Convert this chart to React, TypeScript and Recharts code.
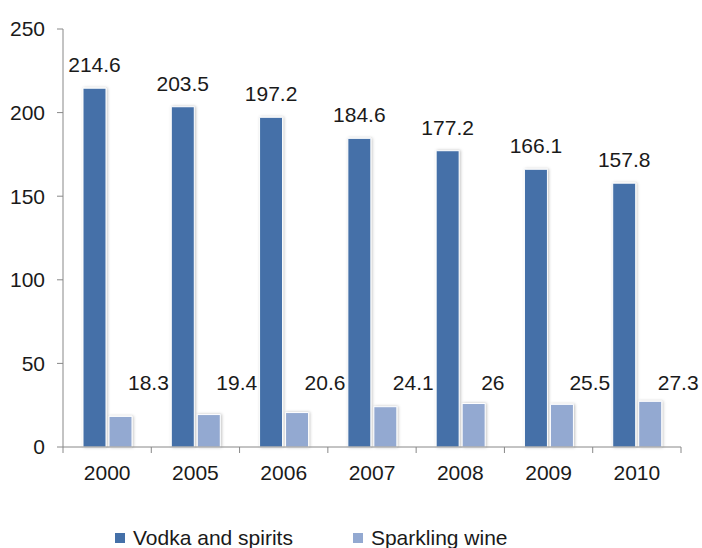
import React from "react";
import {
  BarChart,
  Bar,
  XAxis,
  YAxis,
  Legend,
  LabelList,
} from "recharts";

const years = ["2000", "2005", "2006", "2007", "2008", "2009", "2010"];
const vodka = [214.6, 203.5, 197.2, 184.6, 177.2, 166.1, 157.8];
const sparkling = [18.3, 19.4, 20.6, 24.1, 26, 25.5, 27.3];
const yTicks = [0, 50, 100, 150, 200, 250];

const data = years.map((year, i) => ({
  year,
  vodka: vodka[i],
  sparkling: sparkling[i],
}));

const FONT = "'Liberation Sans', Arial, sans-serif";
const TEXT = "#1a1a1a";
const AXIS = "#888888";
const DARK = "#4470a8";
const LIGHT = "#93a9d1";

const W = 702;
const H = 548;
const LEFT = 63;
const RIGHT = 21;
const BAND = (W - LEFT - RIGHT) / years.length;

function XTick(props: any) {
  const { x, y, payload, index } = props;
  return (
    <g>
      <line x1={x - BAND / 2} x2={x - BAND / 2} y1={y} y2={y + 6} stroke={AXIS} />
      {index === years.length - 1 && (
        <line x1={x + BAND / 2} x2={x + BAND / 2} y1={y} y2={y + 6} stroke={AXIS} />
      )}
      <text x={x} y={y + 33} textAnchor="middle" fill={TEXT} fontSize={21} fontFamily={FONT}>
        {payload.value}
      </text>
    </g>
  );
}

function TopLabel(props: any) {
  const { x, y, width, value } = props;
  return (
    <text x={x + width / 2} y={y - 16} textAnchor="middle" fill={TEXT} fontSize={21} fontFamily={FONT}>
      {value}
    </text>
  );
}

function SideLabel(props: any) {
  const { x, y, width, height, value } = props;
  return (
    <text x={x + width - 4} y={y + height - 57} textAnchor="start" fill={TEXT} fontSize={21} fontFamily={FONT}>
      {value}
    </text>
  );
}

function LegendBox() {
  const item = (color: string, label: string, gap: number) => (
    <span style={{ display: "inline-flex", alignItems: "center", marginRight: gap }}>
      <span style={{ width: 10, height: 10, background: color, marginRight: 8 }} />
      <span>{label}</span>
    </span>
  );
  return (
    <div style={{ height: 20, overflow: "visible" }}>
      <div
        style={{
          paddingLeft: 115,
          lineHeight: "20px",
          fontSize: 21,
          fontFamily: FONT,
          color: TEXT,
          whiteSpace: "nowrap",
          display: "flex",
        }}
      >
        {item(DARK, "Vodka and spirits", 60)}
        {item(LIGHT, "Sparkling wine", 0)}
      </div>
    </div>
  );
}

export default function App() {
  return (
    <div style={{ position: "absolute", left: 0, top: 0, width: W, height: H, background: "#fff", overflow: "hidden" }}>
      <BarChart
        width={W}
        height={H}
        data={data}
        margin={{ top: 29, right: RIGHT, left: 0, bottom: 0 }}
        barSize={23}
        barGap={3}
      >
        <defs>
          <filter id="barShadow" x="-30%" y="-10%" width="160%" height="120%">
            <feDropShadow dx="1" dy="0" stdDeviation="1.5" floodColor="#000" floodOpacity="0.25" />
          </filter>
        </defs>
        <XAxis
          dataKey="year"
          height={81}
          axisLine={{ stroke: AXIS }}
          tickLine={false}
          tickSize={0}
          tickMargin={0}
          tick={<XTick />}
          interval={0}
        />
        <YAxis
          width={LEFT}
          domain={[0, 250]}
          ticks={yTicks}
          axisLine={{ stroke: AXIS }}
          tickLine={{ stroke: AXIS }}
          tickSize={6}
          tickMargin={12}
          tick={{ fill: TEXT, fontSize: 21, fontFamily: FONT }}
        />
        <Legend
          verticalAlign="bottom"
          height={20}
          wrapperStyle={{ height: 20, overflow: "visible" }}
          content={<LegendBox />}
        />
        <Bar
          dataKey="vodka"
          name="Vodka and spirits"
          fill={DARK}
          stroke="#fff"
          strokeWidth={1}
          filter="url(#barShadow)"
          isAnimationActive={false}
        >
          <LabelList dataKey="vodka" content={<TopLabel />} />
        </Bar>
        <Bar
          dataKey="sparkling"
          name="Sparkling wine"
          fill={LIGHT}
          stroke="#fff"
          strokeWidth={1}
          filter="url(#barShadow)"
          isAnimationActive={false}
        >
          <LabelList dataKey="sparkling" content={<SideLabel />} />
        </Bar>
      </BarChart>
    </div>
  );
}
